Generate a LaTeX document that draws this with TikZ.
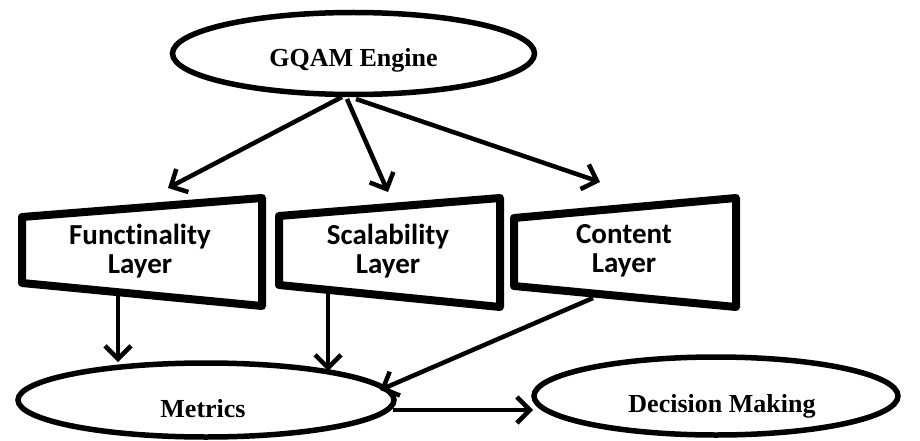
\documentclass[tikz,border=0pt]{standalone}
\usepackage{fontspec}
\setmainfont{Liberation Serif}
\newfontfamily\calib[Ligatures=NoCommon]{Carlito}
\usetikzlibrary{shapes.geometric,arrows.meta}
\begin{document}
\begin{tikzpicture}[x=1pt,y=-1pt,
  oval/.style={ellipse, draw, line width=5.5pt, inner sep=0pt},
  serlabel/.style={anchor=base, font=\fontsize{26}{30}\selectfont\bfseries},
  layer/.style={draw, line width=8pt, line join=round},
  laylabel/.style={align=center, font=\calib\fontsize{29}{29}\selectfont\bfseries},
  link/.style={line width=4.5pt, -{Straight Barb[length=13pt,width=26pt]}}
]
\useasboundingbox (0,0) rectangle (920,441);

% ellipses
\node[oval, minimum width=362pt, minimum height=82pt] (engine) at (353.5,53.5) {};
\node[serlabel] (enginetext) at (353.5,67) {GQAM Engine};

\node[oval, minimum width=376pt, minimum height=74pt] (metrics) at (206,400) {};
\node[serlabel] (metricstext) at (203,417) {Metrics};

\node[oval, minimum width=364pt, minimum height=78pt] (decision) at (716,396) {};
\node[serlabel] (decisiontext) at (722,412) {Decision Making};

% layers
\draw[layer] (22,217) -- (262,198) -- (262,306) -- (22,283) -- cycle;
\node[laylabel] (func) at (140,251) {Functinality\\Layer};

\draw[layer] (279,216) -- (500,198) -- (500,307) -- (279,285) -- cycle;
\node[laylabel] (scal) at (388,251) {Scalability\\Layer};

\draw[layer] (514,218) -- (736,198) -- (736,307) -- (514,286) -- cycle;
\node[laylabel] (cont) at (624,251) {Content\\Layer};

% connector points
\coordinate (srcA) at (342,97);
\coordinate (srcB) at (347,99);
\coordinate (srcC) at (356,99);
\coordinate (tipA) at (168,188);
\coordinate (tipB) at (388,192);
\coordinate (tipC) at (600,182);
\coordinate (funcout) at (118,290);
\coordinate (scalout) at (328,290);
\coordinate (contout) at (593,298);
\coordinate (mA) at (118,362);
\coordinate (mB) at (328,371);
\coordinate (mC) at (380,390);
\coordinate (mout) at (393,410);
\coordinate (din) at (533,410);

\draw[link] (srcA) -- (tipA);
\draw[link] (srcB) -- (tipB);
\draw[link] (srcC) -- (tipC);
\draw[link] (funcout) -- (mA);
\draw[link] (scalout) -- (mB);
\draw[link] (contout) -- (mC);
\draw[link] (mout) -- (din);
\end{tikzpicture}
\end{document}
